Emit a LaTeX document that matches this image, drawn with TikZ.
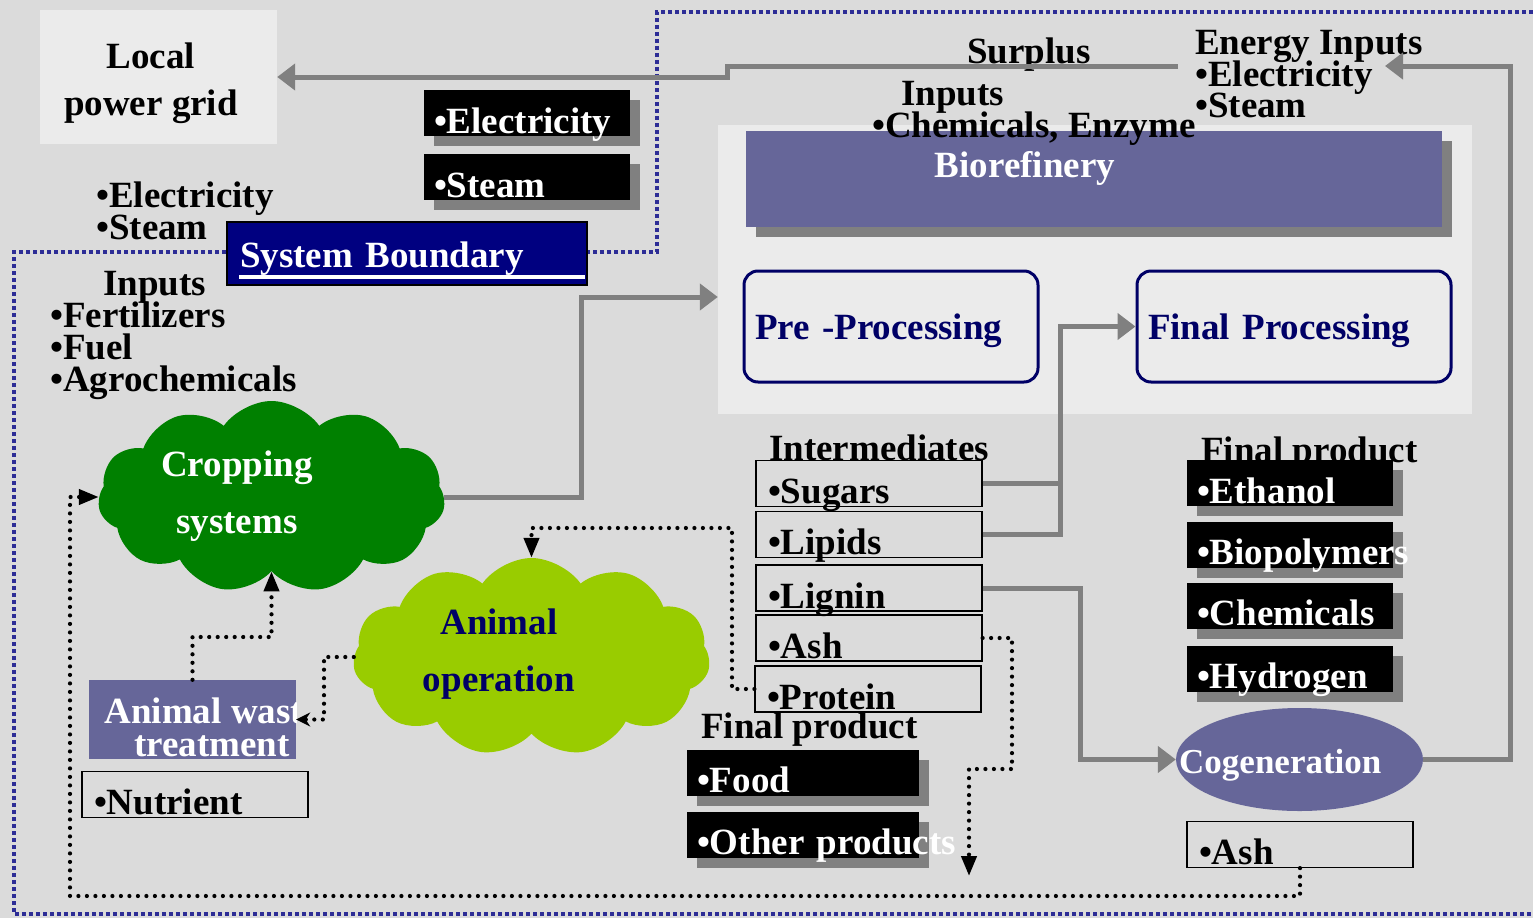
\documentclass[tikz,border=0pt]{standalone}
\usepackage{fontspec}
\setmainfont{Liberation Serif}
\usetikzlibrary{arrows.meta,shapes.geometric,shapes.symbols,shadows}

\definecolor{granite}{RGB}{219,219,219}
\definecolor{panel}{RGB}{235,235,235}
\definecolor{flowgray}{RGB}{128,128,128}
\definecolor{bio}{RGB}{102,102,153}
\definecolor{navytext}{RGB}{0,0,102}
\definecolor{sysblue}{RGB}{0,0,128}
\definecolor{dotblue}{RGB}{45,45,150}
\definecolor{crop}{RGB}{0,128,0}
\definecolor{animal}{RGB}{153,204,0}

\newcommand\tightlines{\lineskiplimit -50pt\relax}

\tikzset{
  txt/.style={font=\bfseries\fontsize{37}{#1}\selectfont\tightlines, inner sep=0pt, align=left},
  txt/.default=32,
  boxshadow/.style={drop shadow={shadow xshift=10pt, shadow yshift=-10pt, fill=flowgray, opacity=1}},
  blackbox/.style={txt, fill=black, text=white, minimum width=206pt, minimum height=46pt, text width=186pt,
    inner xsep=10pt, inner ysep=3pt, text height=40pt, text depth=0pt, boxshadow},
  itembox/.style={txt, draw=black, line width=1.2pt, minimum width=226pt, minimum height=46pt, text width=202pt,
    inner xsep=12pt, inner ysep=3pt, text height=40pt, text depth=0pt},
  procbox/.style={txt, draw=navytext, line width=3pt, rounded corners=14pt, fill=panel, text=navytext,
    minimum height=111pt, text height=25pt, text depth=0pt, inner xsep=11pt},
  panelbox/.style={fill=panel, inner sep=0pt},
  puff/.style={cloud, cloud puffs=11, cloud puff arc=110, cloud ignores aspect, inner sep=0pt},
  flow/.style={draw=flowgray, line width=5pt, -{Triangle[length=18pt,width=26pt]}},
  feed/.style={draw=black, line width=4.2pt, line cap=round, dash pattern=on 0pt off 8.5pt, -{Triangle[length=20pt,width=15pt]}},
  boundary/.style={draw=dotblue, line width=4.5pt, dash pattern=on 4pt off 3pt},
}

\begin{document}
\begin{tikzpicture}[x=1pt, y=-1pt]
  \useasboundingbox (0,0) rectangle (1533,918);
  \fill[granite] (0,0) rectangle (1533,918);

  % panels and system boundary
  \node[panelbox, minimum width=754pt, minimum height=289pt] (biopanel) at (1095,269.5) {};
  \node[panelbox, minimum width=237pt, minimum height=134pt] (grid) at (158.5,77) {};
  \draw[boundary] (1540,12) -- (657,12) -- (657,252) -- (14,252) -- (14,914) -- (1540,914);

  \node[txt=47, align=center, anchor=north] (gridtxt) at (151,43) {Local\\power grid};
  \node[blackbox] (elec)  at (527,113) {\mbox{•Electricity}};
  \node[blackbox] (steam) at (527,177) {\mbox{•Steam}};
  \node[txt, anchor=north west] (leftout) at (96,182) {•Electricity\\•Steam};
  \node[txt, fill=sysblue, draw=black, line width=2pt, text=white, text width=334pt, inner xsep=13pt, inner ysep=3pt,
        text height=42pt, text depth=15pt, minimum height=63pt] (sysbound) at (407,253.5) {System Boundary};
  \draw[white, line width=4pt] ([shift={(13,-9)}]sysbound.south west) -- ([shift={(-3,-9)}]sysbound.south east);
  \node[txt, anchor=north west] (cropin) at (50,271) {\hspace*{53pt}Inputs\\•Fertilizers\\•Fuel\\•Agrochemicals};

  % biorefinery
  \node[fill=bio, minimum width=696pt, minimum height=96pt, inner sep=0pt, boxshadow] (biobar) at (1094,179) {};
  \node[txt, text=white, anchor=base] (biotxt) at (1025,177) {Biorefinery};
  \node[txt, anchor=north west] (bioin) at (872,81.5) {\hspace*{29pt}Inputs\\•Chemicals, Enzyme};
  \node[txt, anchor=base west] (surplus) at (967,63) {Surplus};
  \node[txt=31.5, anchor=north west] (energy) at (1195,30.5) {Energy Inputs\\•Electricity\\•Steam};
  \node[procbox, text width=272pt] (pre)   at (891,326.5)  {Pre -Processing};
  \node[procbox, text width=292pt] (final) at (1294,326.5) {Final Processing};

  % intermediates
  \node[txt, anchor=base west] (interm) at (769,460) {Intermediates};
  \node[itembox] (sugars)  at (869,483.5) {•Sugars};
  \node[itembox] (lipids)  at (869,534.5) {•Lipids};
  \node[itembox] (lignin)  at (869,588)   {•Lignin};
  \node[itembox] (ash)     at (869,638)   {•Ash};
  \node[itembox] (protein) at (868,689)   {•Protein};

  % products
  \node[txt, anchor=base west] (prodR) at (1201,462) {Final product};
  \node[blackbox] (ethanol) at (1290,483)   {\mbox{•Ethanol}};
  \node[blackbox] (biopoly) at (1290,544.5) {\mbox{•Biopolymers}};
  \node[blackbox] (chem)    at (1290,605.5) {\mbox{•Chemicals}};
  \node[blackbox] (hydro)   at (1290,668.5) {\mbox{•Hydrogen}};
  \node[txt, anchor=base west] (prodL) at (701,738) {Final product};
  \node[blackbox, minimum width=232pt, text width=212pt] (food)  at (803,772.5) {\mbox{•Food}};
  \node[blackbox, minimum width=232pt, text width=212pt] (other) at (803,834.5) {\mbox{•Other products}};
  \node[ellipse, fill=bio, minimum width=247pt, minimum height=103pt, inner sep=0pt] (cogen) at (1299.5,759.5) {};
  \node[txt, text=white, font=\bfseries\fontsize{35}{35}\selectfont, anchor=base west] (cogentxt) at (1179,773) {Cogeneration};
  \node[itembox] (ashout) at (1300,844.5) {•Ash};

  % farm side
  \node[puff, fill=crop, minimum width=347pt, minimum height=192pt] (crop) at (271.5,497) {};
  \node[txt=57, align=center, text=white, anchor=north] (croptxt) at (237,451) {Cropping\\systems};
  \node[puff, fill=animal, minimum width=357pt, minimum height=198pt] (anim) at (531.5,657) {};
  \node[txt=57, align=center, text=navytext, anchor=north] (animtxt) at (499,608.5) {Animal\\operation};
  \node[fill=bio, minimum width=207pt, minimum height=79pt, inner sep=0pt] (waste) at (192.5,719.5) {};
  \begin{scope}
    \clip (waste.south west) rectangle (waste.north east);
    \node[txt=33, align=center, text=white, anchor=north] (wastetxt) at (212,698) {Animal waste\\treatment};
  \end{scope}
  \node[itembox] (nutrient) at (195,794.5) {•Nutrient};

  % flows
  \coordinate (surplusout) at (1178,66);
  \coordinate (energyin) at (1385,66);
  \draw[flow] (surplusout) -- (727,66) |- (grid.east);
  \draw[flow] (cogen.east) -| (1510,66) -- (energyin);
  \draw[flow] (crop.east) -| (581,297) -- (biopanel.west |- 0,297);
  \draw[flow, -] (sugars.east) -- (1060,483.5);
  \draw[flow] (lipids.east) -| (1060,0 |- final.west) -- (final.west);
  \draw[flow] (lignin.east) -| (1080,0 |- cogen.west) -- (cogen.west);

  % recycling loops
  \coordinate (otherin) at (969,876);
  \draw[feed] (protein.west) -| (732,528) -| (anim.north);
  \draw[feed, -{Stealth[length=14pt,width=14pt]}] (anim.west) -| (324,0 |- waste.east) -- (waste.east);
  \draw[feed] (waste.north) |- (crop.south |- 0,637) -- (crop.south);
  \draw[feed] (ash.east) -| (1012,769) -| (otherin);
  \draw[feed] (ashout.south) |- (70,896) |- (crop.west);
\end{tikzpicture}
\end{document}
